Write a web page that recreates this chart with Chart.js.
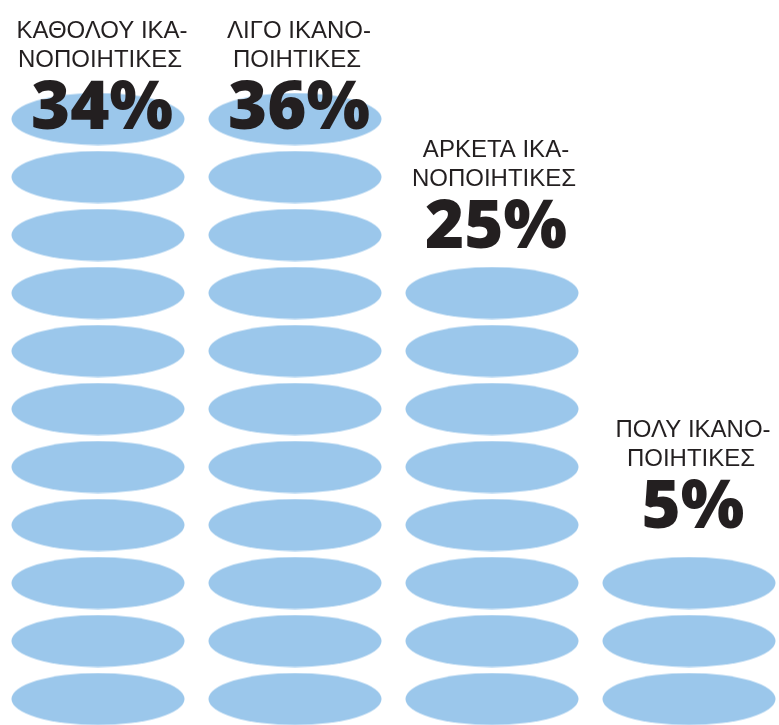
<!DOCTYPE html>
<html>
<head>
<meta charset="utf-8">
<script src="https://cdn.jsdelivr.net/npm/chart.js@4"></script>
<style>
  html, body { margin: 0; padding: 0; background: #fff; }
  #wrap { width: 779px; height: 725px; }
</style>
</head>
<body>
<div id="wrap"><canvas id="chart" width="779" height="725"></canvas></div>
<script>
// Data
const labelLines = [
    ['ΚΑΘΟΛΟΥ ΙΚΑ-', 'ΝΟΠΟΙΗΤΙΚΕΣ'],
    ['ΛΙΓΟ ΙΚΑΝΟ-', 'ΠΟΙΗΤΙΚΕΣ'],
    ['ΑΡΚΕΤΑ ΙΚΑ-', 'ΝΟΠΟΙΗΤΙΚΕΣ'],
    ['ΠΟΛΥ ΙΚΑΝΟ-', 'ΠΟΙΗΤΙΚΕΣ']
];
const percentages = [34, 36, 25, 5];
const ellipseCounts = [11, 11, 8, 3];

// Layout / style
const blue = 'rgb(155, 199, 235)';
const textColor = '#231f20';
const ellipseW = 174;
const ellipseH = 53;
// pixel shift of the percent baseline from the centre of the top ellipse
const percentShift = [10, 10, -45, -55];

// Ellipse used as point style
const ellipse = document.createElement('canvas');
ellipse.width = ellipseW;
ellipse.height = ellipseH;
const ectx = ellipse.getContext('2d');
ectx.fillStyle = blue;
ectx.beginPath();
ectx.ellipse(ellipseW / 2, ellipseH / 2, ellipseW / 2 - 0.5, ellipseH / 2 - 0.5, 0, 0, Math.PI * 2);
ectx.fill();

// One point per ellipse, stacked from the bottom
const points = [];
ellipseCounts.forEach((count, i) => {
    for (let k = 0; k < count; k++) {
        points.push({ x: i, y: k });
    }
});

// Labels above each stack
const labelPlugin = {
    id: 'stackLabels',
    afterDatasetsDraw(chart) {
        const { ctx, scales } = chart;
        ctx.save();
        ctx.fillStyle = textColor;
        ctx.textAlign = 'center';
        ctx.textBaseline = 'alphabetic';
        percentages.forEach((pct, i) => {
            const x = scales.x.getPixelForValue(i);
            const topY = scales.y.getPixelForValue(ellipseCounts[i] - 1);
            const base = topY + percentShift[i];
            ctx.font = '24px "Liberation Sans", Arial, sans-serif';
            ctx.fillText(labelLines[i][0], x + 4, base - 91);
            ctx.fillText(labelLines[i][1], x + 2, base - 62);
            ctx.font = '800 67px "Open Sans", "Liberation Sans"';
            ctx.fillText(pct + '%', x + 4, base);
        });
        ctx.restore();
    }
};

new Chart(document.getElementById('chart'), {
    type: 'scatter',
    data: {
        datasets: [{
            data: points,
            pointStyle: ellipse,
            pointRadius: ellipseW / 2,
            pointHoverRadius: ellipseW / 2,
            backgroundColor: blue,
            borderWidth: 0,
            clip: false
        }]
    },
    options: {
        responsive: false,
        animation: false,
        events: [],
        layout: { padding: 0, autoPadding: false },
        plugins: {
            legend: { display: false },
            tooltip: { enabled: false }
        },
        scales: {
            x: { type: 'linear', display: false, min: -98 / 197, max: (779 - 98) / 197 },
            y: { type: 'linear', display: false, min: -26 / 58, max: 699 / 58 }
        }
    },
    plugins: [labelPlugin]
});
</script>
</body>
</html>
